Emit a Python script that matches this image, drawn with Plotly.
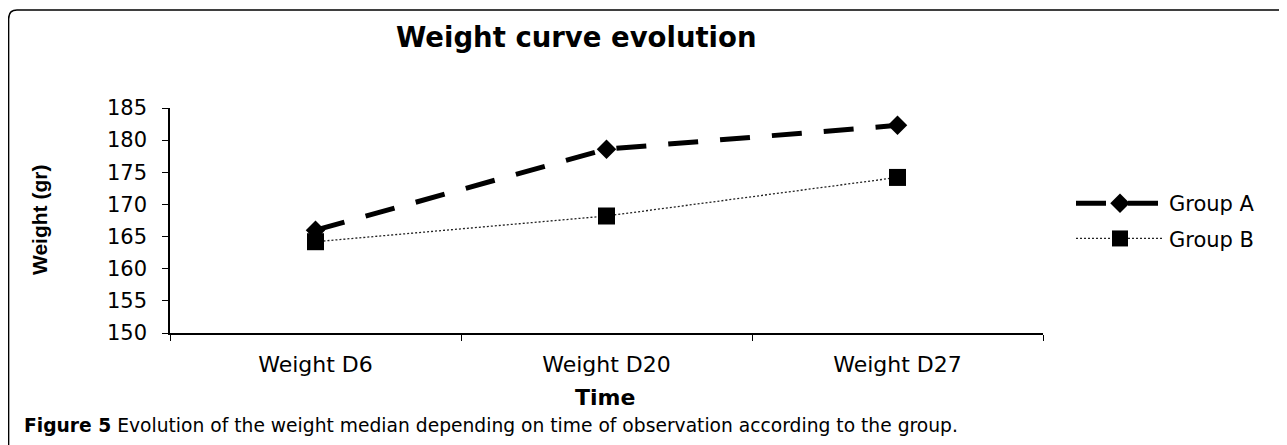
import plotly.graph_objects as go

# ---- data ----
categories = ["Weight D6", "Weight D20", "Weight D27"]
group_a = [166.0, 178.6, 182.3]
group_b = [164.2, 168.2, 174.2]
series_names = ["Group A", "Group B"]
y_ticks = [150, 155, 160, 165, 170, 175, 180, 185]

W, H = 1287, 445
OFF = 8  # page body margin
# plot area in page pixels
PL, PR, PT, PB = 170, 1043, 108, 333
L, R, T, B = PL - OFF, PR - OFF, PT - OFF, PB - OFF


def px(x):
    return (x - OFF - L) / (R - L)


def py(y):
    return (B - (y - OFF)) / (B - T)


fig = go.Figure()
fig.add_trace(go.Scatter(
    x=categories, y=group_a, name=series_names[0], mode="lines+markers",
    legendgroup="a",
    line=dict(color="black", width=5, dash="30px,22px"),
    marker=dict(symbol="diamond", size=15, color="black"),
))
fig.add_trace(go.Scatter(
    x=categories, y=group_b, name=series_names[1], mode="lines+markers",
    legendgroup="b",
    line=dict(color="#222222", width=1.3, dash="2px,2px"),
    marker=dict(symbol="square", size=17, color="black"),
))


def P(x, y):
    return f"{px(x):.5f},{py(y):.5f}"


frame = (f"M {P(8.6, 470)} L {P(8.6, 19)} Q {P(8.6, 10)} {P(17, 10)} "
         f"L {P(1281, 10)} Q {P(1290, 10)} {P(1290, 19)} L {P(1290, 470)}")

fig.update_layout(
    width=W, height=H,
    margin=dict(l=L, r=W - R, t=T, b=H - B, pad=0),
    paper_bgcolor="white", plot_bgcolor="white",
    showlegend=True,
    legend=dict(
        x=px(1071), y=py(221), xanchor="left", yanchor="middle",
        font=dict(family="DejaVu Sans", size=21, color="black"),
        itemwidth=88, bgcolor="rgba(0,0,0,0)", tracegroupgap=5,
        traceorder="grouped",
    ),
    xaxis=dict(
        type="category", categoryorder="array", categoryarray=categories,
        range=[-0.5, 2.5], showgrid=False, zeroline=False,
        showline=True, linecolor="black", linewidth=1.5,
        ticks="outside", tickson="boundaries", ticklen=6, tickwidth=1.2, tickcolor="black",
        tickfont=dict(family="DejaVu Sans", size=22, color="black"),
        ticklabelstandoff=11,
    ),
    yaxis=dict(
        range=[150, 185], tickvals=y_ticks, showgrid=False, zeroline=False,
        showline=True, linecolor="black", linewidth=1.5,
        ticks="outside", ticklen=6, tickwidth=1.2, tickcolor="black",
        tickfont=dict(family="DejaVu Sans", size=21, color="black"),
        ticklabelstandoff=11,
    ),
    shapes=[dict(type="path", path=frame, xref="paper", yref="paper",
                 line=dict(color="black", width=1.5), layer="above")],
    annotations=[
        dict(text="<b>Weight curve evolution</b>", x=px(576), y=py(37), xref="paper", yref="paper",
             xanchor="center", yanchor="middle", showarrow=False,
             font=dict(family="DejaVu Sans", size=27.5, color="black")),
        dict(text="<b>Weight (gr)</b>", x=px(39), y=py(220), xref="paper", yref="paper",
             xanchor="center", yanchor="middle", showarrow=False, textangle=-90,
             font=dict(family="Liberation Sans", size=21, color="black")),
        dict(text="<b>Time</b>", x=px(605), y=py(398), xref="paper", yref="paper",
             xanchor="center", yanchor="middle", showarrow=False,
             font=dict(family="DejaVu Sans", size=22, color="black")),
        dict(text="<b>Figure 5</b> Evolution of the weight median depending on time of observation according to the group.",
             x=px(22), y=py(425), xref="paper", yref="paper",
             xanchor="left", yanchor="middle", showarrow=False,
             font=dict(family="DejaVu Sans", size=18.7, color="black")),
    ],
)

fig.write_html("out.html")
